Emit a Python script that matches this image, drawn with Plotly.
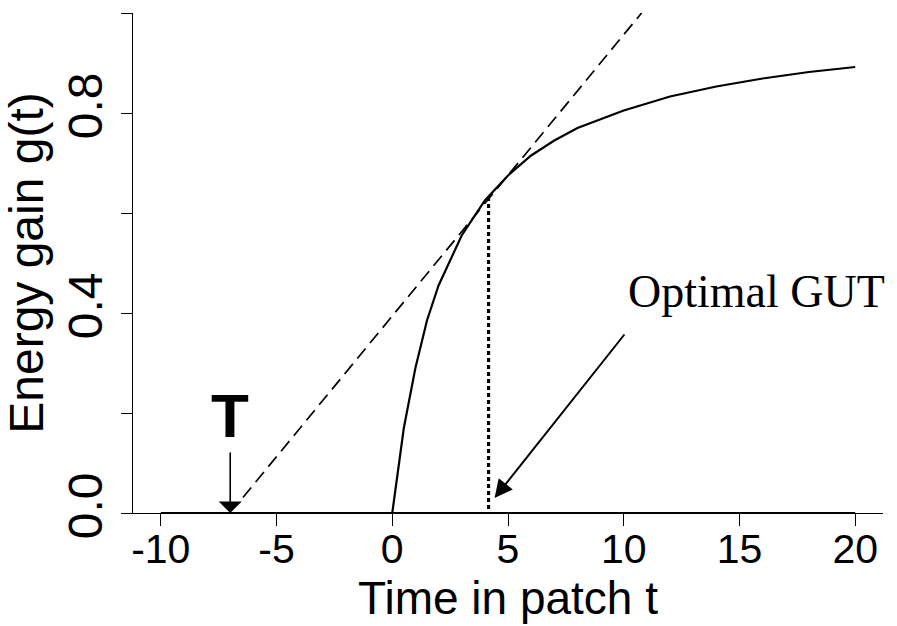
import plotly.graph_objects as go

# ---- data ----
t_curve = [0, 0.25, 0.5, 1, 1.5, 2, 3, 4, 5, 6, 7, 8, 10, 12, 14, 16, 18, 20]
g_curve = [0, 0.09, 0.17, 0.29, 0.385, 0.455, 0.555, 0.625, 0.675, 0.715,
           0.745, 0.77, 0.805, 0.833, 0.853, 0.869, 0.882, 0.892]

baseline_t = [-10, 20]
baseline_g = [0, 0]

tangent_t = [-6.45, 10.77]
tangent_g = [0.031, 1.0]

gut_t = 4.16
gut_g = 0.632
T_value = -7.0

x_ticks = [-10, -5, 0, 5, 10, 15, 20]
y_ticks = [0.0, 0.2, 0.4, 0.6, 0.8, 1.0]
y_ticktext = ["0.0", "", "0.4", "", "0.8", ""]

FONT = "Liberation Sans, Arial, sans-serif"
SERIF = "Liberation Serif, Times New Roman, serif"

fig = go.Figure()

fig.add_trace(go.Scatter(x=baseline_t, y=baseline_g, mode="lines",
                         line=dict(color="black", width=2.2), hoverinfo="skip"))
fig.add_trace(go.Scatter(x=t_curve, y=g_curve, mode="lines",
                         line=dict(color="black", width=2.2), hoverinfo="skip"))
fig.add_trace(go.Scatter(x=tangent_t, y=tangent_g, mode="lines",
                         line=dict(color="black", width=1.7, dash="13px,7px"),
                         hoverinfo="skip"))
fig.add_trace(go.Scatter(x=[gut_t, gut_t], y=[0.008, gut_g], mode="lines",
                         line=dict(color="black", width=3.2, dash="4px,3px"),
                         hoverinfo="skip"))

annotations = [
    # T label
    dict(x=T_value, y=0.196, xref="x", yref="y", text="<b>T</b>", showarrow=False,
         font=dict(family=FONT, size=62, color="black"),
         xanchor="center", yanchor="middle"),
    # T arrow
    dict(x=T_value, y=0.0, xref="x", yref="y", ax=T_value, ay=0.124,
         axref="x", ayref="y", text="", showarrow=True,
         arrowhead=1, arrowsize=2.4, arrowwidth=1.6, arrowcolor="black"),
    # Optimal GUT label
    dict(x=15.73, y=0.443, xref="x", yref="y", text="Optimal GUT", showarrow=False,
         font=dict(family=SERIF, size=46, color="black"),
         xanchor="center", yanchor="middle"),
    # GUT arrow
    dict(x=4.42, y=0.03, xref="x", yref="y", ax=10.08, ay=0.36,
         axref="x", ayref="y", text="", showarrow=True,
         arrowhead=2, arrowsize=1.8, arrowwidth=2, arrowcolor="black"),
]

fig.update_layout(
    template="none",
    width=897, height=626,
    margin=dict(l=133, r=14, t=13, b=113),
    paper_bgcolor="white", plot_bgcolor="white",
    showlegend=False,
    annotations=annotations,
    xaxis=dict(range=[-11.2, 21.2], tickvals=x_ticks,
               ticktext=[str(v) for v in x_ticks], automargin=False,
               ticks="outside", ticklen=12, tickwidth=1.3, tickcolor="black",
               ticklabelstandoff=-12,
               showline=True, linecolor="black", linewidth=1.2,
               showgrid=False, zeroline=False,
               tickfont=dict(family=FONT, size=41, color="black"),
               title=dict(text="Time in patch t", standoff=4,
                          font=dict(family=FONT, size=46, color="black"))),
    yaxis=dict(range=[0, 1.0], tickvals=y_ticks, ticktext=y_ticktext,
               tickangle=-90, automargin=False,
               ticks="outside", ticklen=11, tickwidth=1.3, tickcolor="black",
               showline=True, linecolor="black", linewidth=1.3,
               showgrid=False, zeroline=False,
               tickfont=dict(family=FONT, size=48, color="black"),
               title=dict(text="Energy gain g(t)", standoff=2,
                          font=dict(family=FONT, size=48, color="black"))),
)

fig.write_html("out.html")
